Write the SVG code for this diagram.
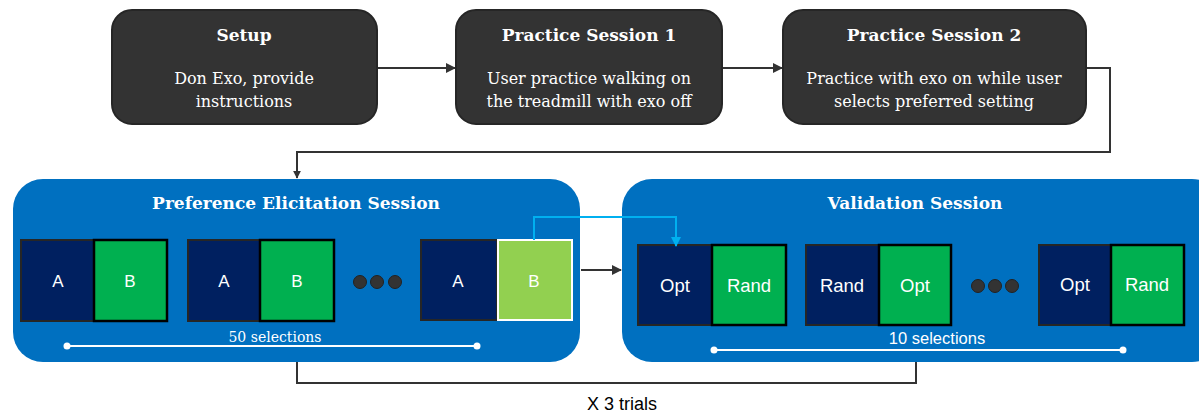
<svg xmlns="http://www.w3.org/2000/svg" width="1199" height="414" viewBox="0 0 1199 414">
<defs>
<marker id="ah" viewBox="0 0 10 10" refX="9" refY="5" markerWidth="5" markerHeight="5" orient="auto"><path d="M0,0 L10,5 L0,10 z" fill="#333"/></marker>
<marker id="ahb" viewBox="0 0 10 10" refX="9" refY="5" markerWidth="5" markerHeight="5" orient="auto"><path d="M0,0 L10,5 L0,10 z" fill="#00B0F0"/></marker>
<marker id="ahk" viewBox="0 0 10 10" refX="9" refY="5" markerWidth="4" markerHeight="4" orient="auto"><path d="M0,0 L10,5 L0,10 z" fill="#333"/></marker>
</defs>
<style>
.step{fill:#333;stroke:#262626;stroke-width:2}
.sess{fill:#0070C0}
.title{font-family:"DejaVu Serif","Liberation Serif",serif;font-weight:bold;font-size:17px;fill:#fff;text-anchor:middle}
.body{font-family:"DejaVu Serif","Liberation Serif",serif;font-size:16px;fill:#fff;text-anchor:middle}
.a{fill:#002060;stroke:#262626;stroke-width:2}
.b{fill:#00B050;stroke:#000;stroke-width:2.5}
.lb{fill:#92D050;stroke:#fff;stroke-width:2}
.lab{font-family:"Liberation Sans",Arial,sans-serif;font-size:17px;fill:#fff;text-anchor:middle}
.lab2{font-family:"Liberation Sans",Arial,sans-serif;font-size:18.5px;fill:#fff;text-anchor:middle}
.dot{fill:#333;stroke:#222;stroke-width:1}
.conn{fill:none;stroke:#333;stroke-width:2}
.wl{stroke:#fff;stroke-width:2}
</style>
<g id="connectors">
<path class="conn" d="M377,68 H455" marker-end="url(#ah)"/>
<path class="conn" d="M722,68 H782" marker-end="url(#ah)"/>
<path class="conn" d="M1086,68 H1110 V152 H297 V178" marker-end="url(#ahk)"/>
<path class="conn" d="M581,270 H621" stroke-width="3" marker-end="url(#ah)"/>
<path class="conn" d="M297,362 V383 H916 V362"/>
</g>
<g id="setup">
<rect class="step" x="112" y="10" width="265" height="114" rx="20"/>
<text class="title" x="244" y="41">Setup</text>
<text class="body" x="244" y="84">Don Exo, provide</text>
<text class="body" x="244" y="107">instructions</text>
</g>
<g id="practice1">
<rect class="step" x="456" y="10" width="266" height="114" rx="20"/>
<text class="title" x="589" y="41">Practice Session 1</text>
<text class="body" x="589" y="84">User practice walking on</text>
<text class="body" x="589" y="107">the treadmill with exo off</text>
</g>
<g id="practice2">
<rect class="step" x="783" y="10" width="303" height="114" rx="20"/>
<text class="title" x="934" y="41">Practice Session 2</text>
<text class="body" x="934" y="84">Practice with exo on while user</text>
<text class="body" x="934" y="107">selects preferred setting</text>
</g>
<g id="preference">
<rect class="sess" x="13" y="179" width="567" height="183" rx="30"/>
<text class="title" x="296" y="209">Preference Elicitation Session</text>
<rect class="a" x="21" y="240" width="73" height="81"/>
<rect class="b" x="94" y="240" width="73" height="81"/>
<text class="lab" x="58" y="287">A</text>
<text class="lab" x="130" y="287">B</text>
<rect class="a" x="188" y="240" width="72" height="81"/>
<rect class="b" x="260" y="240" width="74" height="81"/>
<text class="lab" x="224" y="287">A</text>
<text class="lab" x="297" y="287">B</text>
<circle class="dot" cx="360" cy="282" r="6.5"/>
<circle class="dot" cx="377" cy="282" r="6.5"/>
<circle class="dot" cx="395" cy="282" r="6.5"/>
<rect class="a" x="421" y="240" width="76" height="80"/>
<rect class="lb" x="498" y="240" width="74" height="80"/>
<text class="lab" x="458" y="287">A</text>
<text class="lab" x="534" y="287">B</text>
<line class="wl" x1="67" y1="346" x2="477" y2="346"/>
<circle cx="67" cy="346" r="3.5" fill="#fff"/>
<circle cx="477" cy="346" r="3.5" fill="#fff"/>
<text class="body" x="275" y="342" style="font-size:14px">50 selections</text>
</g>
<g id="validation">
<rect class="sess" x="622" y="179" width="600" height="183" rx="30"/>
<text class="title" x="915" y="209">Validation Session</text>
<rect class="a" x="638" y="245" width="74" height="80"/>
<rect class="b" x="712" y="245" width="74" height="80"/>
<text class="lab2" x="675" y="292">Opt</text>
<text class="lab2" x="749" y="292">Rand</text>
<rect class="a" x="806" y="245" width="73" height="80"/>
<rect class="b" x="879" y="245" width="72" height="80"/>
<text class="lab2" x="842" y="292">Rand</text>
<text class="lab2" x="915" y="292">Opt</text>
<circle class="dot" cx="978" cy="286" r="6.5"/>
<circle class="dot" cx="995" cy="286" r="6.5"/>
<circle class="dot" cx="1012" cy="286" r="6.5"/>
<rect class="a" x="1039" y="245" width="72" height="80"/>
<rect class="b" x="1111" y="245" width="73" height="80"/>
<text class="lab2" x="1075" y="291">Opt</text>
<text class="lab2" x="1147" y="291">Rand</text>
<line class="wl" x1="714" y1="350" x2="1123" y2="350"/>
<circle cx="714" cy="350" r="3.5" fill="#fff"/>
<circle cx="1123" cy="350" r="3.5" fill="#fff"/>
<text class="lab" x="937" y="344" style="font-size:16.5px">10 selections</text>
</g>
<g id="blue-link">
<path d="M534,240 V217 H676 V246" fill="none" stroke="#00B0F0" stroke-width="2" marker-end="url(#ahb)"/>
</g>
<text x="622" y="410" font-family="'Liberation Sans',Arial,sans-serif" font-size="18" fill="#000" text-anchor="middle">X 3 trials</text>
</svg>
